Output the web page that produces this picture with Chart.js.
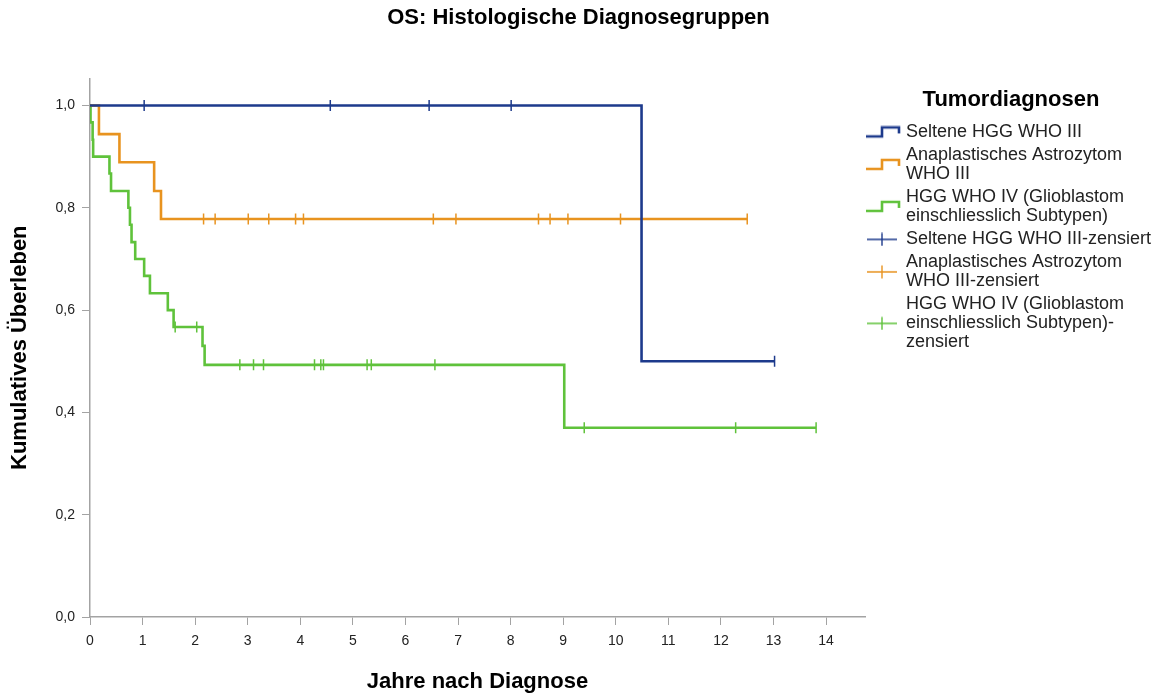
<!DOCTYPE html>
<html>
<head>
<meta charset="utf-8">
<script src="https://cdn.jsdelivr.net/npm/chart.js@4.4.1/dist/chart.umd.min.js"></script>
<style>
  html, body { margin: 0; padding: 0; background: #ffffff; }
  #wrap { width: 1157px; height: 695px; position: relative; }
</style>
</head>
<body>
<div id="wrap"><canvas id="c" width="1157" height="695"></canvas></div>
<script>
// ---------- data ----------
const chartTitle = 'OS: Histologische Diagnosegruppen';
const xTitle = 'Jahre nach Diagnose';
const yTitle = 'Kumulatives Überleben';
const legendTitle = 'Tumordiagnosen';

const groupLabels = [
  ['Seltene HGG WHO III'],
  ['Anaplastisches Astrozytom', 'WHO III'],
  ['HGG WHO IV (Glioblastom', 'einschliesslich Subtypen)']
];
const censorLabels = [
  ['Seltene HGG WHO III-zensiert'],
  ['Anaplastisches Astrozytom', 'WHO III-zensiert'],
  ['HGG WHO IV (Glioblastom', 'einschliesslich Subtypen)-', 'zensiert']
];
const groupColors = ['#1d3a8c', '#e8931f', '#5fc23b'];

// Seltene HGG WHO III
const selteneYears = [0, 10.49, 13.02];
const selteneSurv  = [1.0, 0.5, 0.5];
const selteneCensYears = [1.03, 4.57, 6.45, 8.01, 13.02];
const selteneCensSurv  = [1.0, 1.0, 1.0, 1.0, 0.5];

// Anaplastisches Astrozytom WHO III
const anaYears = [0, 0.17, 0.56, 1.22, 1.35, 12.5];
const anaSurv  = [1.0, 0.944, 0.889, 0.833, 0.778, 0.778];
const anaCensYears = [2.16, 2.38, 3.01, 3.40, 3.91, 4.06, 6.53, 6.96, 8.53, 8.75, 9.09, 10.09, 12.5];
const anaCensSurv  = [0.778, 0.778, 0.778, 0.778, 0.778, 0.778, 0.778, 0.778, 0.778, 0.778, 0.778, 0.778, 0.778];

// HGG WHO IV (Glioblastom einschliesslich Subtypen)
const hggYears = [0, 0.01, 0.05, 0.06, 0.37, 0.40, 0.73, 0.76, 0.79, 0.86, 1.03, 1.14, 1.48, 1.59, 2.14, 2.18, 9.02, 13.81];
const hggSurv  = [1.0, 0.967, 0.933, 0.9, 0.867, 0.833, 0.8, 0.767, 0.733, 0.7, 0.667, 0.633, 0.6, 0.567, 0.530, 0.493, 0.370, 0.370];
const hggCensYears = [1.62, 2.03, 2.85, 3.11, 3.30, 4.27, 4.39, 4.44, 5.27, 5.35, 6.56, 9.40, 12.28, 13.81];
const hggCensSurv  = [0.567, 0.567, 0.493, 0.493, 0.493, 0.493, 0.493, 0.493, 0.493, 0.493, 0.493, 0.370, 0.370, 0.370];

const xMin = 0, xMax = 14.74, xStep = 1;
const yMin = 0, yMax = 1.053, yStep = 0.2;

// ---------- helpers ----------
const FONT = "'Liberation Sans', Arial, Helvetica, sans-serif";
const LINE_H = 19;
function toPoints(xs, ys) { return xs.map((x, i) => ({ x: x, y: ys[i] })); }

function stepIcon(color, nLines) {
  const off = (nLines - 1) * LINE_H / 2;
  const c = document.createElement('canvas');
  c.width = 36; c.height = Math.round(14 + 2 * off);
  const g = c.getContext('2d');
  const y0 = 2 * off;
  g.strokeStyle = color; g.lineWidth = 2.6; g.lineJoin = 'miter';
  g.beginPath();
  g.moveTo(1, y0 + 11); g.lineTo(17, y0 + 11); g.lineTo(17, y0 + 2);
  g.lineTo(34, y0 + 2); g.lineTo(34, y0 + 8);
  g.stroke();
  return c;
}
function plusIcon(color, nLines) {
  const off = (nLines - 1) * LINE_H / 2;
  const c = document.createElement('canvas');
  c.width = 34; c.height = Math.round(14 + 2 * off);
  const g = c.getContext('2d');
  const y0 = 2 * off;
  g.strokeStyle = color; g.lineWidth = 1.4;
  g.beginPath();
  g.moveTo(1, y0 + 7); g.lineTo(31, y0 + 7);
  g.moveTo(16, y0 + 0.5); g.lineTo(16, y0 + 13.5);
  g.stroke();
  return c;
}

const curveSets = [
  [selteneYears, selteneSurv],
  [anaYears, anaSurv],
  [hggYears, hggSurv]
];
const censSets = [
  [selteneCensYears, selteneCensSurv],
  [anaCensYears, anaCensSurv],
  [hggCensYears, hggCensSurv]
];

const datasets = [];
curveSets.forEach((s, i) => {
  datasets.push({
    type: 'line',
    label: groupLabels[i].join(' '),
    data: toPoints(s[0], s[1]),
    borderColor: groupColors[i],
    backgroundColor: groupColors[i],
    borderWidth: 2.6,
    stepped: true,
    pointRadius: 0,
    fill: false,
    order: i
  });
});
censSets.forEach((s, i) => {
  datasets.push({
    type: 'line',
    label: censorLabels[i].join(' '),
    data: toPoints(s[0], s[1]),
    showLine: false,
    borderColor: groupColors[i],
    backgroundColor: groupColors[i],
    pointStyle: 'line',
    pointRotation: 90,
    pointRadius: 5.5,
    pointBorderWidth: 1.5,
    pointHoverRadius: 5.5,
    order: 3 + i
  });
});

const legendItems = [];
groupLabels.forEach((t, i) => legendItems.push({ text: t, icon: stepIcon(groupColors[i], t.length), ds: i }));
censorLabels.forEach((t, i) => legendItems.push({ text: t, icon: plusIcon(groupColors[i], t.length), ds: 3 + i }));

const axisGray = '#a3a3a3';

const chart = new Chart(document.getElementById('c'), {
  data: { datasets: datasets },
  options: {
    responsive: false,
    animation: false,
    events: [],
    layout: { padding: { left: 0, right: 0, top: 0, bottom: 0 } },
    plugins: {
      tooltip: { enabled: false },
      title: {
        display: true,
        text: chartTitle,
        color: '#000',
        font: { family: FONT, size: 22, weight: 'bold', lineHeight: 1.2 },
        padding: { top: 5, bottom: 47 }
      },
      legend: {
        display: true,
        position: 'right',
        align: 'start',
        maxWidth: 292,
        title: {
          display: true,
          text: legendTitle,
          color: '#000',
          font: { family: FONT, size: 22, weight: 'bold', lineHeight: 1.2 },
          padding: { top: 89, bottom: 4 }
        },
        labels: {
          usePointStyle: true,
          pointStyleWidth: 28,
          padding: 4,
          color: '#222',
          font: { family: FONT, size: 18, lineHeight: LINE_H / 18 },
          generateLabels: function () {
            return legendItems.map(it => ({
              text: it.text,
              pointStyle: it.icon,
              fillStyle: 'transparent',
              strokeStyle: 'transparent',
              lineWidth: 0,
              hidden: false,
              datasetIndex: it.ds,
              fontColor: '#222'
            }));
          }
        }
      }
    },
    scales: {
      x: {
        type: 'linear',
        min: xMin,
        max: xMax,
        afterFit: function (scale) { scale.height = 78; },
        border: { display: true, color: axisGray, width: 1.5 },
        grid: { display: true, drawOnChartArea: false, drawTicks: true, tickLength: 8, color: axisGray, lineWidth: 1 },
        ticks: {
          stepSize: xStep,
          includeBounds: false,
          autoSkip: false,
          maxRotation: 0,
          padding: 8,
          color: '#222',
          font: { family: FONT, size: 14 },
          callback: v => String(v)
        },
        title: {
          display: true,
          text: xTitle,
          color: '#000',
          font: { family: FONT, size: 22, weight: 'bold', lineHeight: 1.2 },
          padding: { top: 0, bottom: 0 }
        }
      },
      y: {
        type: 'linear',
        min: yMin,
        max: yMax,
        afterFit: function (scale) { scale.width = 90; },
        border: { display: true, color: axisGray, width: 1.5 },
        grid: { display: true, drawOnChartArea: false, drawTicks: true, tickLength: 8, color: axisGray, lineWidth: 1 },
        ticks: {
          stepSize: yStep,
          includeBounds: false,
          padding: 7,
          color: '#222',
          font: { family: FONT, size: 14 },
          callback: v => v.toFixed(1).replace('.', ',')
        },
        title: {
          display: true,
          text: yTitle,
          color: '#000',
          font: { family: FONT, size: 22, weight: 'bold', lineHeight: 1.2 },
          padding: { top: 7, bottom: 0 }
        }
      }
    }
  }
});

// make the plot area end at x = 865 like the reference
const wantRight = 865;
const diff = chart.chartArea.right - wantRight;
if (Math.abs(diff) > 0.5) {
  chart.options.layout.padding.right = Math.max(0, diff);
  chart.update('none');
}
</script>
</body>
</html>
